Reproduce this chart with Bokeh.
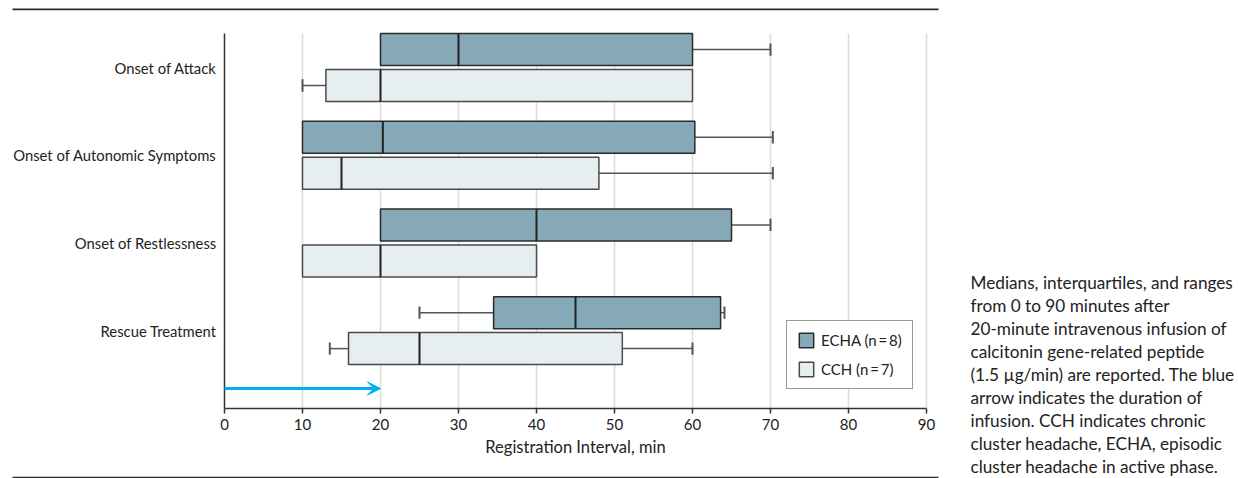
from bokeh.plotting import figure
from bokeh.models import (ColumnDataSource, FixedTicker, BoxAnnotation, Label,
                          Arrow, VeeHead, Legend, LegendItem)
from bokeh.embed import file_html
from bokeh.resources import INLINE

# ---------------- data ----------------
categories = ["Onset of Attack", "Onset of Autonomic Symptoms",
              "Onset of Restlessness", "Rescue Treatment"]
cat_pos = [4, 3, 2, 1]

echa_min = [20, 10, 20, 25]
echa_q1 = [20, 10, 20, 34.5]
echa_med = [30, 20.3, 40, 45]
echa_q3 = [60, 60.3, 65, 63.6]
echa_max = [70, 70.3, 70, 64.1]

cch_min = [10, 10, 10, 13.5]
cch_q1 = [13, 10, 10, 15.9]
cch_med = [20, 15, 20, 25]
cch_q3 = [60, 48, 40, 51]
cch_max = [60, 70.3, 40, 60]

x_ticks = [0, 10, 20, 30, 40, 50, 60, 70, 80, 90]
infusion_start = 0
infusion_end = 20

echa_label = "ECHA (n\u2009=\u20098)"
cch_label = "CCH (n\u2009=\u20097)"
x_title = "Registration Interval, min"
note_lines = [
    "Medians, interquartiles, and ranges",
    "from 0 to 90 minutes after",
    "20-minute intravenous infusion of",
    "calcitonin gene-related peptide",
    "(1.5 \u00b5g/min) are reported. The blue",
    "arrow indicates the duration of",
    "infusion. CCH indicates chronic",
    "cluster headache, ECHA, episodic",
    "cluster headache in active phase.",
]

# ---------------- layout / style ----------------
W, H = 1238, 478
FONT = "Lato"
TXT = "#222222"
ECHA_FILL = "#86a9b7"
CCH_FILL = "#e7eef1"
BOX_H = 0.365
OFF = 0.205
CAP_H = 0.14

AX_LEFT, AX_RIGHT = 224, 926
AX_TOP, AX_BOTTOM = 33, 408
X_MIN, X_MAX = 0, 90
Y_MIN, Y_MAX = 0.112, 4.388
sx = (AX_RIGHT - AX_LEFT) / (X_MAX - X_MIN)
sy = (AX_BOTTOM - AX_TOP) / (Y_MAX - Y_MIN)
x_start = X_MIN - AX_LEFT / sx
x_end = X_MAX + (W - AX_RIGHT) / sx
y_end = Y_MAX + AX_TOP / sy
y_start = Y_MIN - (H - AX_BOTTOM) / sy

p = figure(width=W, height=H, output_backend="svg", toolbar_location=None,
           x_range=(x_start, x_end), y_range=(y_start, y_end),
           min_border=0, min_border_left=0, min_border_right=0,
           min_border_top=0, min_border_bottom=0)
p.outline_line_color = None
p.background_fill_color = "white"
p.border_fill_color = "white"
p.xgrid.visible = False
p.ygrid.visible = False

# vertical grid lines
gx = x_ticks[1:]
p.segment(x0=gx, x1=gx, y0=[Y_MIN] * len(gx), y1=[Y_MAX] * len(gx),
          line_color="#dcdcdc", line_width=1.5)

# axes (fixed inside the canvas)
xa = p.xaxis[0]
xa.fixed_location = Y_MIN
xa.bounds = (X_MIN, X_MAX)
xa.ticker = FixedTicker(ticks=x_ticks)
xa.axis_label = x_title
xa.axis_label_text_font = FONT
xa.axis_label_text_font_style = "normal"
xa.axis_label_text_font_size = "16.5px"
xa.axis_label_text_color = TXT
xa.axis_label_standoff = 4
xa.major_label_text_font = FONT
xa.major_label_text_font_size = "15px"
xa.major_label_text_color = TXT
xa.major_label_standoff = 5
xa.major_tick_out = 5
xa.major_tick_in = 0
xa.minor_tick_out = 0
xa.minor_tick_in = 0
xa.axis_line_color = "#333333"
xa.axis_line_width = 1.5
xa.major_tick_line_color = "#333333"
xa.major_tick_line_width = 1.5

ya = p.yaxis[0]
ya.fixed_location = X_MIN
ya.bounds = (Y_MIN, Y_MAX)
ya.ticker = FixedTicker(ticks=cat_pos)
ya.major_label_overrides = {pos: c for pos, c in zip(cat_pos, categories)}
ya.major_label_text_font = FONT
ya.major_label_text_font_size = "14.8px"
ya.major_label_text_color = TXT
ya.major_tick_out = 0
ya.major_tick_in = 0
ya.minor_tick_out = 0
ya.minor_tick_in = 0
ya.major_label_standoff = 8
ya.axis_line_color = "#333333"
ya.axis_line_width = 1.5


def draw_group(mins, q1s, meds, q3s, maxs, offset, fill, line_col):
    ys = [c + offset for c in cat_pos]
    wx0, wx1, wy = [], [], []
    cx, cy0, cy1 = [], [], []
    for y, mn, q1, q3, mx in zip(ys, mins, q1s, q3s, maxs):
        if mn < q1:
            wx0.append(mn); wx1.append(q1); wy.append(y)
            cx.append(mn); cy0.append(y - CAP_H / 2); cy1.append(y + CAP_H / 2)
        if mx > q3:
            wx0.append(q3); wx1.append(mx); wy.append(y)
            cx.append(mx); cy0.append(y - CAP_H / 2); cy1.append(y + CAP_H / 2)
    p.segment(x0=wx0, y0=wy, x1=wx1, y1=wy, line_color="#555555", line_width=1.5)
    p.segment(x0=cx, y0=cy0, x1=cx, y1=cy1, line_color="#555555", line_width=2)
    src = ColumnDataSource(dict(y=ys, left=q1s, right=q3s))
    r = p.hbar(y="y", left="left", right="right", height=BOX_H, source=src,
               fill_color=fill, line_color=line_col, line_width=1.5)
    p.segment(x0=meds, y0=[y - BOX_H / 2 for y in ys], x1=meds,
              y1=[y + BOX_H / 2 for y in ys], line_color="#222222", line_width=2)
    return r


r_echa = draw_group(echa_min, echa_q1, echa_med, echa_q3, echa_max, OFF,
                    ECHA_FILL, "#2b2b2b")
r_cch = draw_group(cch_min, cch_q1, cch_med, cch_q3, cch_max, -OFF,
                   CCH_FILL, "#4a4a4a")

# infusion arrow
arrow_y = Y_MIN + 20 / sy
p.add_layout(Arrow(end=VeeHead(size=13, fill_color="#00aeef", line_color="#00aeef"),
                   x_start=infusion_start, y_start=arrow_y,
                   x_end=infusion_end, y_end=arrow_y,
                   line_color="#00aeef", line_width=3))

# legend
legend = Legend(items=[LegendItem(label=echa_label, renderers=[r_echa]),
                       LegendItem(label=cch_label, renderers=[r_cch])],
                location=(786, H - 389), orientation="vertical",
                glyph_width=18, glyph_height=18, label_height=18,
                spacing=11, padding=10, margin=0, label_standoff=6,
                label_text_font=FONT, label_text_font_size="15px",
                label_text_color=TXT,
                border_line_color="#333333", border_line_width=1.5,
                background_fill_color="white", background_fill_alpha=1)
p.add_layout(legend, "center")

# horizontal rules (top and bottom)
for top_px in (8, 476.2):
    p.add_layout(BoxAnnotation(left=12, right=938, bottom=H - top_px - 1.8,
                               top=H - top_px,
                               left_units="screen", right_units="screen",
                               bottom_units="screen", top_units="screen",
                               fill_color="#2a2a2a", fill_alpha=1,
                               line_color=None))

# right-hand note text
for i, line in enumerate(note_lines):
    p.add_layout(Label(x=970, y=H - (282 + i * 23), x_units="screen",
                       y_units="screen", text=line, text_font=FONT,
                       text_font_size="17.2px", text_color=TXT,
                       text_baseline="middle", text_align="left"))

open("out.html", "w").write(file_html(p, INLINE))
